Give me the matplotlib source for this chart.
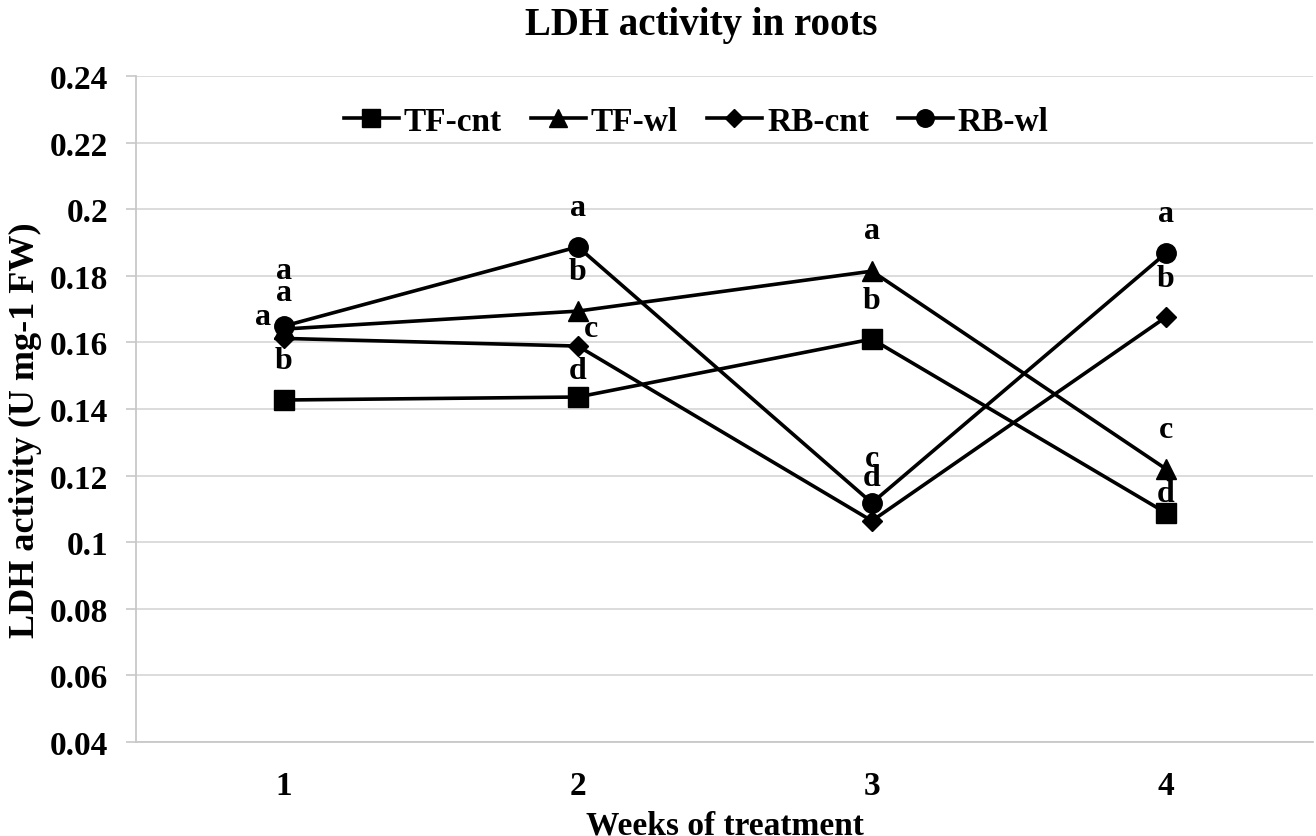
import matplotlib.pyplot as plt

# --- data ---
weeks = [1, 2, 3, 4]
tf_cnt = [0.1427, 0.1436, 0.1610, 0.1088]
tf_wl = [0.1640, 0.1694, 0.1814, 0.1220]
rb_cnt = [0.1612, 0.1589, 0.1064, 0.1676]
rb_wl = [0.1649, 0.1887, 0.1118, 0.1868]

# significance letters per series and week
tf_cnt_letters = ['b', 'd', 'b', 'd']
tf_wl_letters = ['a', 'b', 'a', 'c']
rb_cnt_letters = ['a', 'c', 'd', 'b']
rb_wl_letters = ['a', 'a', 'c', 'a']

y_ticks = [0.04, 0.06, 0.08, 0.1, 0.12, 0.14, 0.16, 0.18, 0.2, 0.22, 0.24]
y_tick_labels = ['0.04', '0.06', '0.08', '0.1', '0.12', '0.14', '0.16',
                 '0.18', '0.2', '0.22', '0.24']

plt.rcParams['font.family'] = ['Liberation Serif', 'DejaVu Serif']
plt.rcParams['font.weight'] = 'bold'

fig = plt.figure(figsize=(13.16, 8.37), dpi=100)
ax = fig.add_axes([0.1033, 0.1123, 0.8944, 0.7957])

lw = 2.6
ax.plot(weeks, tf_cnt, color='black', lw=lw, marker='s', markersize=14, label='TF-cnt', zorder=3)
ax.plot(weeks, tf_wl, color='black', lw=lw, marker='^', markersize=14, label='TF-wl', zorder=3)
ax.plot(weeks, rb_cnt, color='black', lw=lw, marker='D', markersize=10, label='RB-cnt', zorder=3)
ax.plot(weeks, rb_wl, color='black', lw=lw, marker='o', markersize=14, label='RB-wl', zorder=4)

# letter offsets (pixels) from each marker, per series
px = 0.72
offsets = {
    'tf_cnt': [(0, 40), (0, 27), (0, 39), (0, 19)],
    'tf_wl': [(0, 37), (0, 40), (0, 41), (0, 39)],
    'rb_cnt': [(-21, 22), (13, 18), (0, 43), (0, 39)],
    'rb_wl': [(0, 56), (0, 39), (0, 44), (0, 40)],
}
series = {
    'tf_cnt': (tf_cnt, tf_cnt_letters),
    'tf_wl': (tf_wl, tf_wl_letters),
    'rb_cnt': (rb_cnt, rb_cnt_letters),
    'rb_wl': (rb_wl, rb_wl_letters),
}
for key, (vals, letters) in series.items():
    for w, v, let, (dx, dy) in zip(weeks, vals, letters, offsets[key]):
        ax.annotate(let, (w, v), xytext=(dx * px, dy * px), textcoords='offset points',
                    ha='center', va='center', fontsize=23, fontweight='bold', zorder=5)

ax.set_xlim(0.497, 4.5)
ax.set_ylim(0.04, 0.24)
ax.set_xticks(weeks)
ax.set_xticklabels([str(w) for w in weeks])
ax.set_yticks(y_ticks)
ax.set_yticklabels(y_tick_labels)
ax.tick_params(axis='y', labelsize=24, length=7, color='#c8c8c8', width=1.2, pad=13)
ax.tick_params(axis='x', labelsize=24, length=0, pad=20)

ax.grid(axis='y', color='#d9d9d9', lw=1.3)
ax.set_axisbelow(True)
for s in ['top', 'right']:
    ax.spines[s].set_visible(False)
ax.spines['left'].set_color('#c8c8c8')
ax.spines['bottom'].set_color('#c8c8c8')
ax.spines['left'].set_linewidth(1.3)
ax.spines['bottom'].set_linewidth(1.3)

ax.set_xlabel('Weeks of treatment', fontsize=24, fontweight='bold', labelpad=6)
ax.set_ylabel('LDH activity (U mg-1 FW)', fontsize=26, fontweight='bold')
ax.yaxis.set_label_coords(-0.080, 0.47)
fig.text(0.533, 0.970, 'LDH activity in roots', ha='center', va='center',
         fontsize=28, fontweight='bold')

leg = ax.legend(loc='center', bbox_to_anchor=(0.476, 0.932), ncol=4, frameon=False,
                fontsize=24, handlelength=1.65, handletextpad=0.15, columnspacing=0.87,
                markerscale=0.9, borderpad=0, borderaxespad=0)

plt.savefig('out.png', dpi=100)
